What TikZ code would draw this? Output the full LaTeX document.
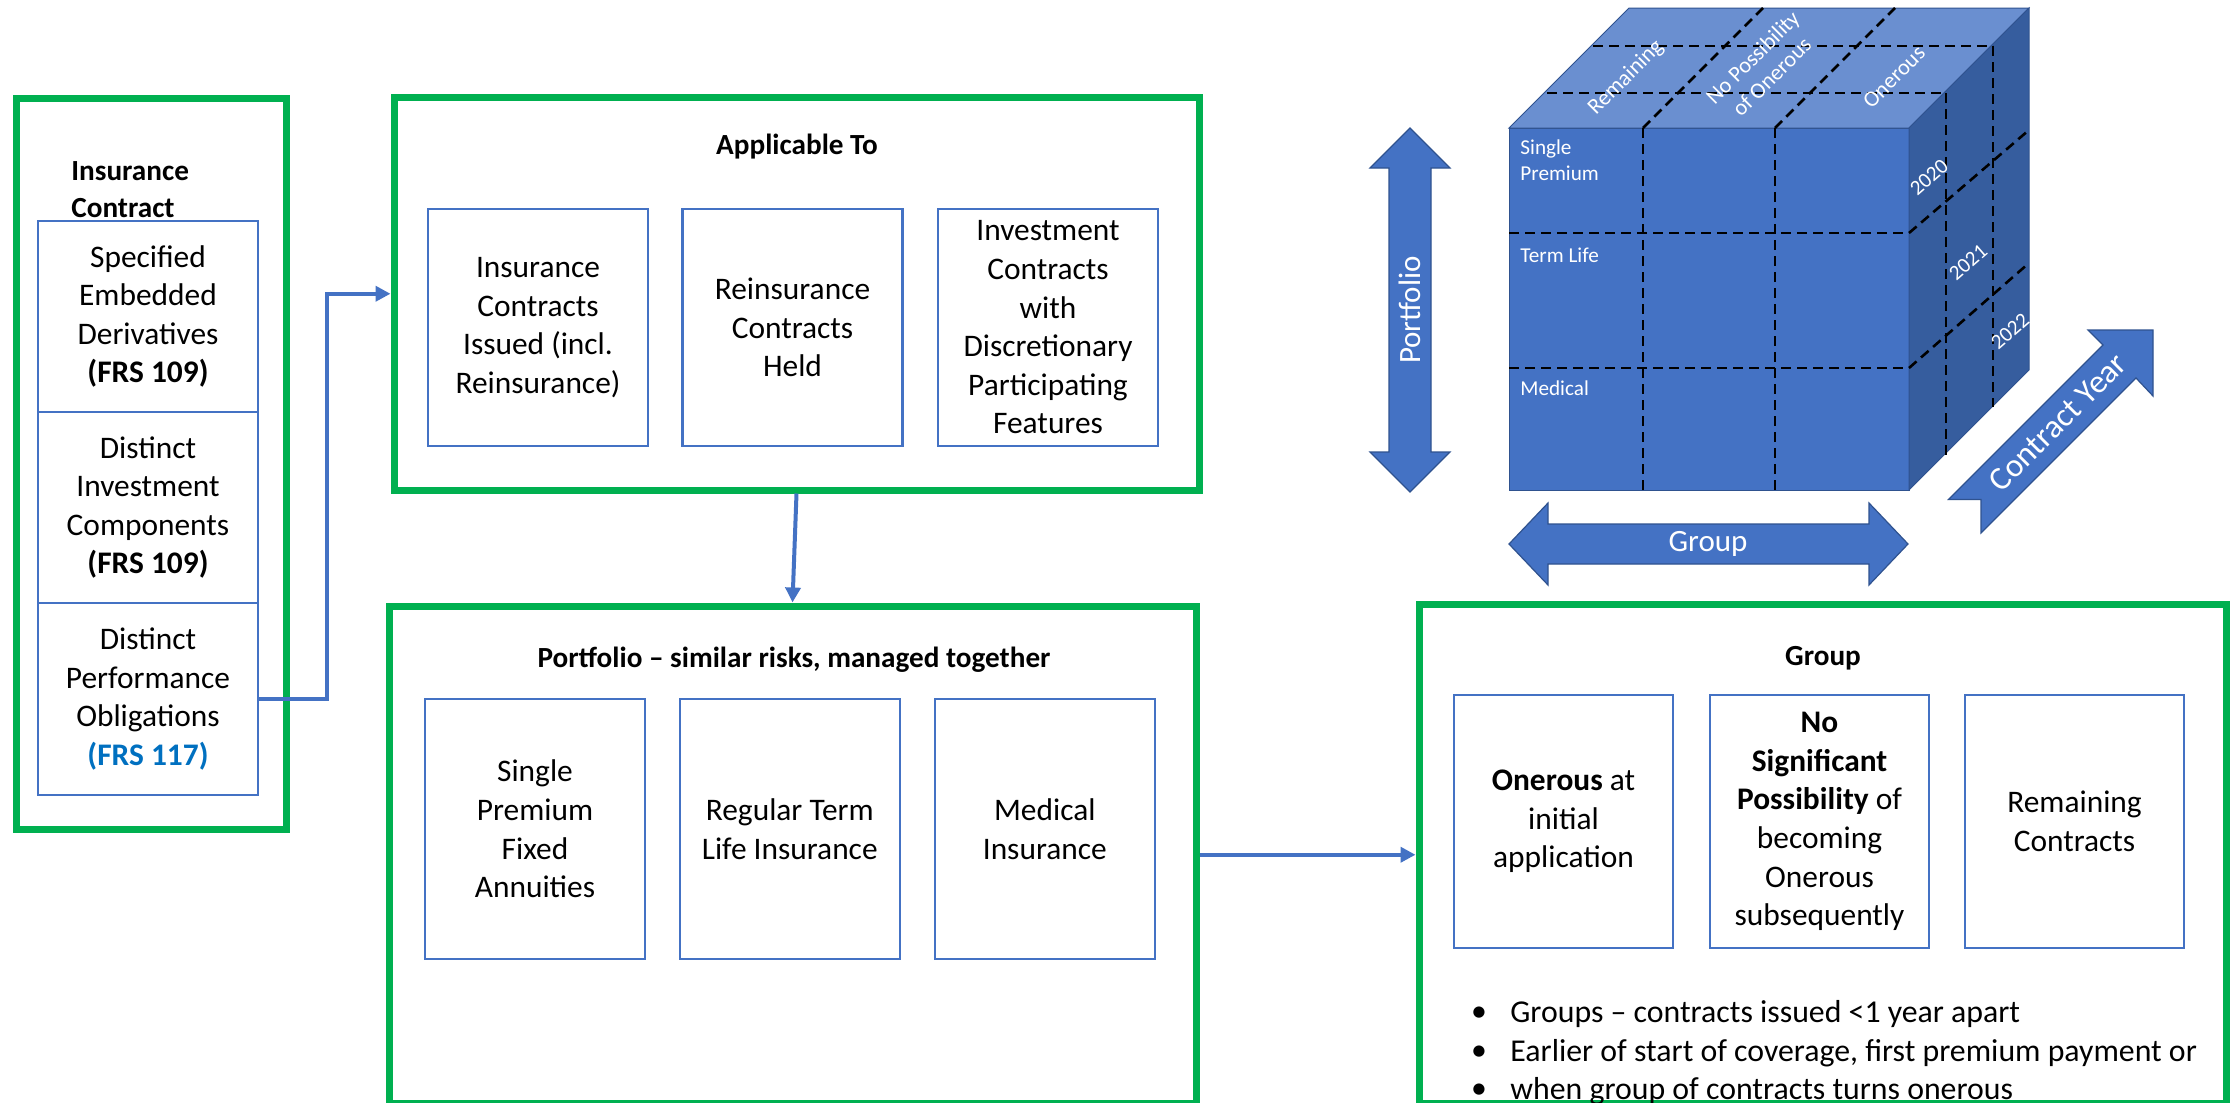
\documentclass[tikz,border=0pt]{standalone}
\usepackage{fontspec}
\setmainfont{Carlito}
\usetikzlibrary{arrows.meta}
\definecolor{gr}{HTML}{00B050}
\definecolor{bl}{HTML}{4472C4}
\definecolor{bldk}{HTML}{2F528F}
\definecolor{topc}{HTML}{6A8FD0}
\definecolor{sidec}{HTML}{365D9E}
\definecolor{frsblue}{HTML}{0070C0}
\begin{document}
\begin{tikzpicture}[x=0.5pt,y=-0.5pt,
 greenbox/.style={draw=gr, line width=3.5pt, inner sep=0pt},
 innerbox/.style={draw=bl, line width=1.2pt, align=center, inner sep=0pt, font=\fontsize{15.7}{19.3}\selectfont},
 boxtitle/.style={font=\bfseries\fontsize{14.6}{18.5}\selectfont, inner sep=0pt},
 conn/.style={draw=bl, line width=2pt, -{Triangle[length=7.5pt,width=7.5pt]}},
 dsh/.style={draw=black, line width=1.3pt, dash pattern=on 5pt off 3pt},
 cubelbl/.style={text=white, font=\fontsize{10.6}{13}\selectfont, inner sep=0pt},
 toplbl/.style={text=white, font=\fontsize{11.2}{13.5}\selectfont, inner sep=0pt, rotate=45},
 bigarrow/.style={fill=bl, draw=bldk, line width=0.6pt},
 arrowlbl/.style={text=white, font=\fontsize{15.5}{19}\selectfont, inner sep=0pt},
 bodytext/.style={font=\fontsize{15.9}{19}\selectfont, inner sep=0pt},
]
\useasboundingbox (0,0) rectangle (2239,1103);
\fill[white] (0,0) rectangle (2239,1103);

% ---------- left box ----------
\node[greenbox, minimum width=135pt, minimum height=365.5pt] (lbox) at (151,463.5) {};
\node[boxtitle, anchor=west, align=left] (ictitle) at (71,189.5) {Insurance\\Contract};
\node[innerbox, minimum width=110pt, minimum height=95.5pt] (c1) at (148,316.5)
  {Specified\\Embedded\\Derivatives\\\textbf{(FRS 109)}};
\node[innerbox, minimum width=110pt, minimum height=95.5pt] (c2) at (148,507.5)
  {Distinct\\Investment\\Components\\\textbf{(FRS 109)}};
\node[innerbox, minimum width=110pt, minimum height=96pt] (c3) at (148,699)
  {Distinct\\Performance\\Obligations\\\textcolor{frsblue}{\textbf{(FRS 117)}}};

% ---------- Applicable To ----------
\node[greenbox, minimum width=402.5pt, minimum height=196.25pt] (appl) at (796.5,293.75) {};
\node[boxtitle] (applt) at (797,147) {Applicable To};
\node[innerbox, minimum width=110pt, minimum height=118.5pt] (a1) at (538,327.5)
  {Insurance\\Contracts\\Issued (incl.\\Reinsurance)};
\node[innerbox, minimum width=110pt, minimum height=118.5pt] (a2) at (792.5,327.5)
  {Reinsurance\\Contracts\\Held};
\node[innerbox, minimum width=110pt, minimum height=118.5pt] (a3) at (1048,327.5)
  {Investment\\Contracts\\with\\Discretionary\\Participating\\Features};

% ---------- Portfolio ----------
\node[greenbox, minimum width=403.5pt, minimum height=248.75pt] (portf) at (792.5,854.75) {};
\node[boxtitle] (portft) at (794,660) {Portfolio -- similar risks, managed together};
\node[innerbox, minimum width=110pt, minimum height=130pt] (p1) at (535,829)
  {Single\\Premium\\Fixed\\Annuities};
\node[innerbox, minimum width=110pt, minimum height=130pt] (p2) at (789.75,829)
  {Regular Term\\Life Insurance};
\node[innerbox, minimum width=110pt, minimum height=130pt] (p3) at (1044.8,829)
  {Medical\\Insurance};

% ---------- Group ----------
\node[greenbox, minimum width=403.5pt, minimum height=249.75pt] (grp) at (1822.5,853.75) {};
\node[boxtitle] (grpt) at (1823,658) {Group};
\node[innerbox, minimum width=109.5pt, minimum height=126.5pt] (g1) at (1563.5,821.5)
  {\textbf{Onerous} at\\initial\\application};
\node[innerbox, minimum width=109.5pt, minimum height=126.5pt] (g2) at (1819.5,821.5)
  {\textbf{No}\\\textbf{Significant}\\\textbf{Possibility} of\\becoming\\Onerous\\subsequently};
\node[innerbox, minimum width=109.5pt, minimum height=126.5pt] (g3) at (2074.5,821.5)
  {Remaining\\Contracts};

\node[bodytext] (bu1) at (1479,1014) {\textbullet};
\node[bodytext] (bu2) at (1479,1053) {\textbullet};
\node[bodytext] (bu3) at (1479,1091) {\textbullet};
\node[bodytext, anchor=west] (bt1) at (1510,1014) {Groups -- contracts issued <1 year apart};
\node[bodytext, anchor=west] (bt2) at (1510,1053) {Earlier of start of coverage, first premium payment or};
\node[bodytext, anchor=west] (bt3) at (1510,1091) {when group of contracts turns onerous};

% ---------- connectors ----------
\draw[conn] (c3.east) -- ++(68,0) |- (appl.west);
\draw[conn] (appl.south) -- (portf.north);
\draw[conn] (portf.east) -- (portf.east -| grp.west);

% ---------- cube ----------
\filldraw[fill=bl, draw=bldk, line width=0.5pt] (1509,128) rectangle (1909,490);
\filldraw[fill=topc, draw=bldk, line width=0.5pt] (1509,128) -- (1629,8) -- (2029,8) -- (1909,128) -- cycle;
\filldraw[fill=sidec, draw=bldk, line width=0.5pt] (1909,128) -- (2029,8) -- (2029,370) -- (1909,490) -- cycle;

% front grid
\draw[dsh] (1643,128) -- (1643,490);
\draw[dsh] (1775,128) -- (1775,490);
\draw[dsh] (1509,233) -- (1909,233);
\draw[dsh] (1509,368) -- (1909,368);
% side grid
\draw[dsh] (1909,233) -- (2029,130);
\draw[dsh] (1909,368) -- (2029,263);
\draw[dsh] (1946,93) -- (1946,455);
\draw[dsh] (1993,46) -- (1993,407);
% top grid
\draw[dsh] (1547,93) -- (1946,93);
\draw[dsh] (1593,46) -- (1993,46);
\draw[dsh] (1643,128) -- (1763,8);
\draw[dsh] (1775,128) -- (1895,8);

% cube labels
\node[cubelbl, anchor=west, align=left] (lsp) at (1520,160) {Single\\Premium};
\node[cubelbl, anchor=west] (ltl) at (1520,255) {Term Life};
\node[cubelbl, anchor=west] (lmd) at (1520,388) {Medical};
\node[toplbl] (lrem) at (1626,78) {Remaining};
\node[toplbl, align=center] (lnp) at (1762,67) {No Possibility\\of Onerous};
\node[toplbl] (lon) at (1894,77) {Onerous};
\node[cubelbl, rotate=41] (y20) at (1929,177) {2020};
\node[cubelbl, rotate=41] (y21) at (1968,262) {2021};
\node[cubelbl, rotate=41] (y22) at (2010,331) {2022};

% Portfolio double arrow
\filldraw[bigarrow] (1410,128) -- (1450,168) -- (1431,168) -- (1431,452) -- (1450,452)
  -- (1410,492) -- (1370,452) -- (1389,452) -- (1389,168) -- (1370,168) -- cycle;
\node[arrowlbl, rotate=90] (lportf) at (1410,310) {Portfolio};

% Group double arrow
\filldraw[bigarrow] (1509,544) -- (1548,503) -- (1548,524) -- (1869,524) -- (1869,503)
  -- (1908,544) -- (1869,585) -- (1869,564) -- (1548,564) -- (1548,585) -- cycle;
\node[arrowlbl] (lgrp) at (1708,544) {Group};

% Contract Year arrow
\filldraw[bigarrow] (1948.6,499.4) -- (2103,345) -- (2088,330) -- (2153,330) -- (2153,396)
  -- (2136,378) -- (1981,533) -- (1981,499.4) -- cycle;
\node[arrowlbl, rotate=45, font=\fontsize{16.5}{19}\selectfont] (lcy) at (2058,422) {Contract Year};
\end{tikzpicture}
\end{document}
